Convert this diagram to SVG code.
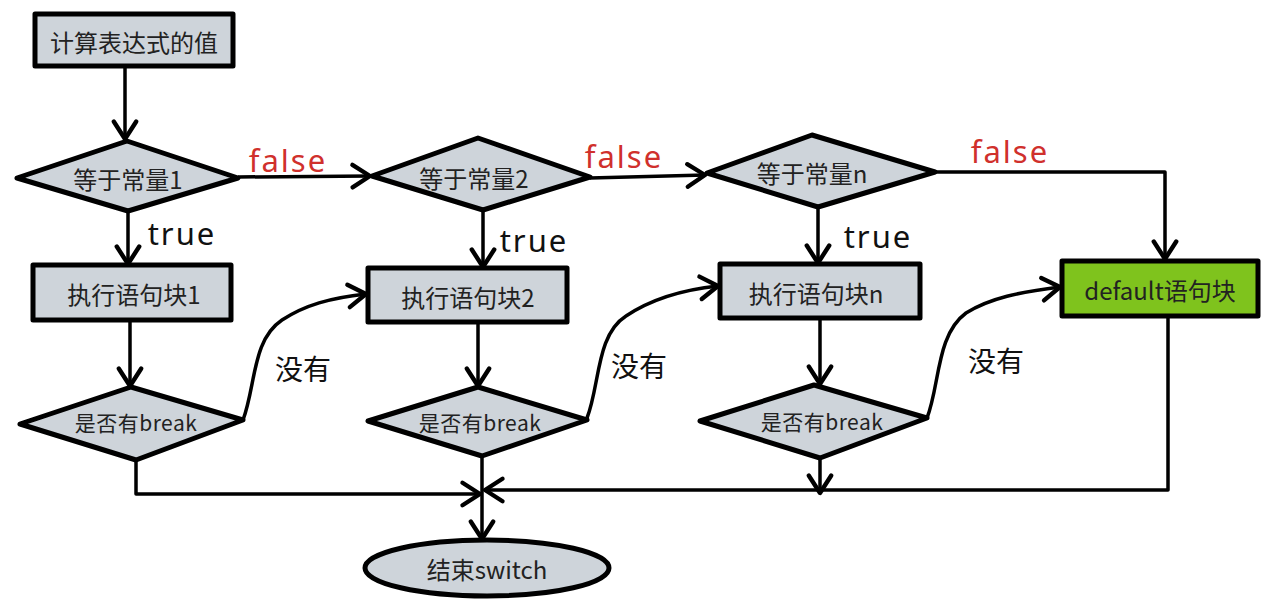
<svg xmlns="http://www.w3.org/2000/svg" width="1266" height="605" viewBox="0 0 1266 605">
<style>
.box{fill:#ced4da;stroke:#000;stroke-width:5;stroke-linejoin:round}
.dia{fill:#ced4da;stroke:#000;stroke-width:5;stroke-linejoin:round}
.green{fill:#7fc31d}
.lbl{font-family:"Noto Sans CJK SC","Noto Sans",sans-serif;font-size:24px;fill:#222;text-anchor:middle;dominant-baseline:central}
.sm{font-size:21px;letter-spacing:0.5px}
.hand{font-family:"Noto Sans","Liberation Sans",sans-serif;font-size:31px;letter-spacing:2px;dominant-baseline:central}
.f{fill:#d0302c}
.t{fill:#111}
.ny{font-family:"Noto Sans CJK SC",sans-serif;font-size:28px;fill:#111;dominant-baseline:central}
.c{fill:none;stroke:#000;stroke-width:3.5;stroke-linejoin:round;marker-end:url(#ah)}
</style>
<defs>
<marker id="ah" markerUnits="userSpaceOnUse" markerWidth="30" markerHeight="30" refX="0" refY="0" viewBox="-16 -12 20 24" orient="auto">
<path d="M-14,-9 L0,0 L-14,9" fill="none" stroke="#000" stroke-width="3.5" stroke-linecap="round" stroke-linejoin="round"/>
</marker>
</defs>
<rect width="1266" height="605" fill="#fff"/>

<g id="connectors">
<path class="c" d="M125,66 V139"/>
<path class="c" d="M238,177 L370,176"/>
<path class="c" d="M590,178 L705,175"/>
<path class="c" d="M935,172 H1165 V259"/>
<path class="c" d="M128,211 V264"/>
<path class="c" d="M483,210 V267"/>
<path class="c" d="M818,207 V263"/>
<path class="c" d="M130,320 V386"/>
<path class="c" d="M478,322 V386"/>
<path class="c" d="M820,318 V384"/>
<path class="c" d="M243,420 C256,385 252,340 282,320 C305,305 330,298 366,294"/>
<path class="c" d="M587,418 C600,385 596,335 626,316 C650,300 680,290 718,286"/>
<path class="c" d="M927,418 C940,385 936,335 966,313 C990,298 1020,292 1060,287"/>
<path class="c" d="M136,460 V494 H480"/>
<path class="c" d="M1168,316 V490 H485"/>
<path class="c" d="M482,456 V539"/>
<path class="c" d="M820,458 V493"/>
<text class="hand f" x="288" y="160" text-anchor="middle">false</text>
<text class="hand f" x="624" y="156" text-anchor="middle">false</text>
<text class="hand f" x="1010" y="151" text-anchor="middle">false</text>
<text class="hand t" x="182" y="233" text-anchor="middle">true</text>
<text class="hand t" x="534" y="240" text-anchor="middle">true</text>
<text class="hand t" x="878" y="236" text-anchor="middle">true</text>
<text class="ny" x="303" y="368" text-anchor="middle">没有</text>
<text class="ny" x="639" y="365" text-anchor="middle">没有</text>
<text class="ny" x="996" y="360" text-anchor="middle">没有</text>
</g>

<g id="start">
<rect class="box" x="35" y="14" width="198" height="52"/>
<text class="lbl" x="134" y="41">计算表达式的值</text>
</g>
<g id="eq1">
<polygon class="dia" points="17,178 127,141 238,178 128,211"/>
<text class="lbl" x="128" y="178">等于常量1</text>
</g>
<g id="eq2">
<polygon class="dia" points="372,176 478,138 590,177 483,210"/>
<text class="lbl" x="474" y="177">等于常量2</text>
</g>
<g id="eqn">
<polygon class="dia" points="707,173 812,135 935,172 818,207"/>
<text class="lbl" x="812" y="172">等于常量n</text>
</g>
<g id="exec1">
<rect class="box" x="33" y="265" width="198" height="55"/>
<text class="lbl" x="134" y="293">执行语句块1</text>
</g>
<g id="exec2">
<rect class="box" x="368" y="268" width="199" height="54"/>
<text class="lbl" x="468" y="296">执行语句块2</text>
</g>
<g id="execn">
<rect class="box" x="720" y="264" width="200" height="54"/>
<text class="lbl" x="816" y="292">执行语句块n</text>
</g>
<g id="default">
<rect class="box green" x="1062" y="261" width="196" height="55"/>
<text class="lbl" x="1160" y="289">default语句块</text>
</g>
<g id="brk1">
<polygon class="dia" points="20,424 131,387 243,420 136,460"/>
<text class="lbl sm" x="136" y="422">是否有break</text>
</g>
<g id="brk2">
<polygon class="dia" points="368,421 478,387 587,420 482,456"/>
<text class="lbl sm" x="480" y="422">是否有break</text>
</g>
<g id="brk3">
<polygon class="dia" points="700,421 814,385 927,418 820,458"/>
<text class="lbl sm" x="822" y="421">是否有break</text>
</g>
<g id="end">
<ellipse class="box" cx="487" cy="568" rx="122" ry="28"/>
<text class="lbl" x="487" y="568">结束switch</text>
</g>
</svg>
